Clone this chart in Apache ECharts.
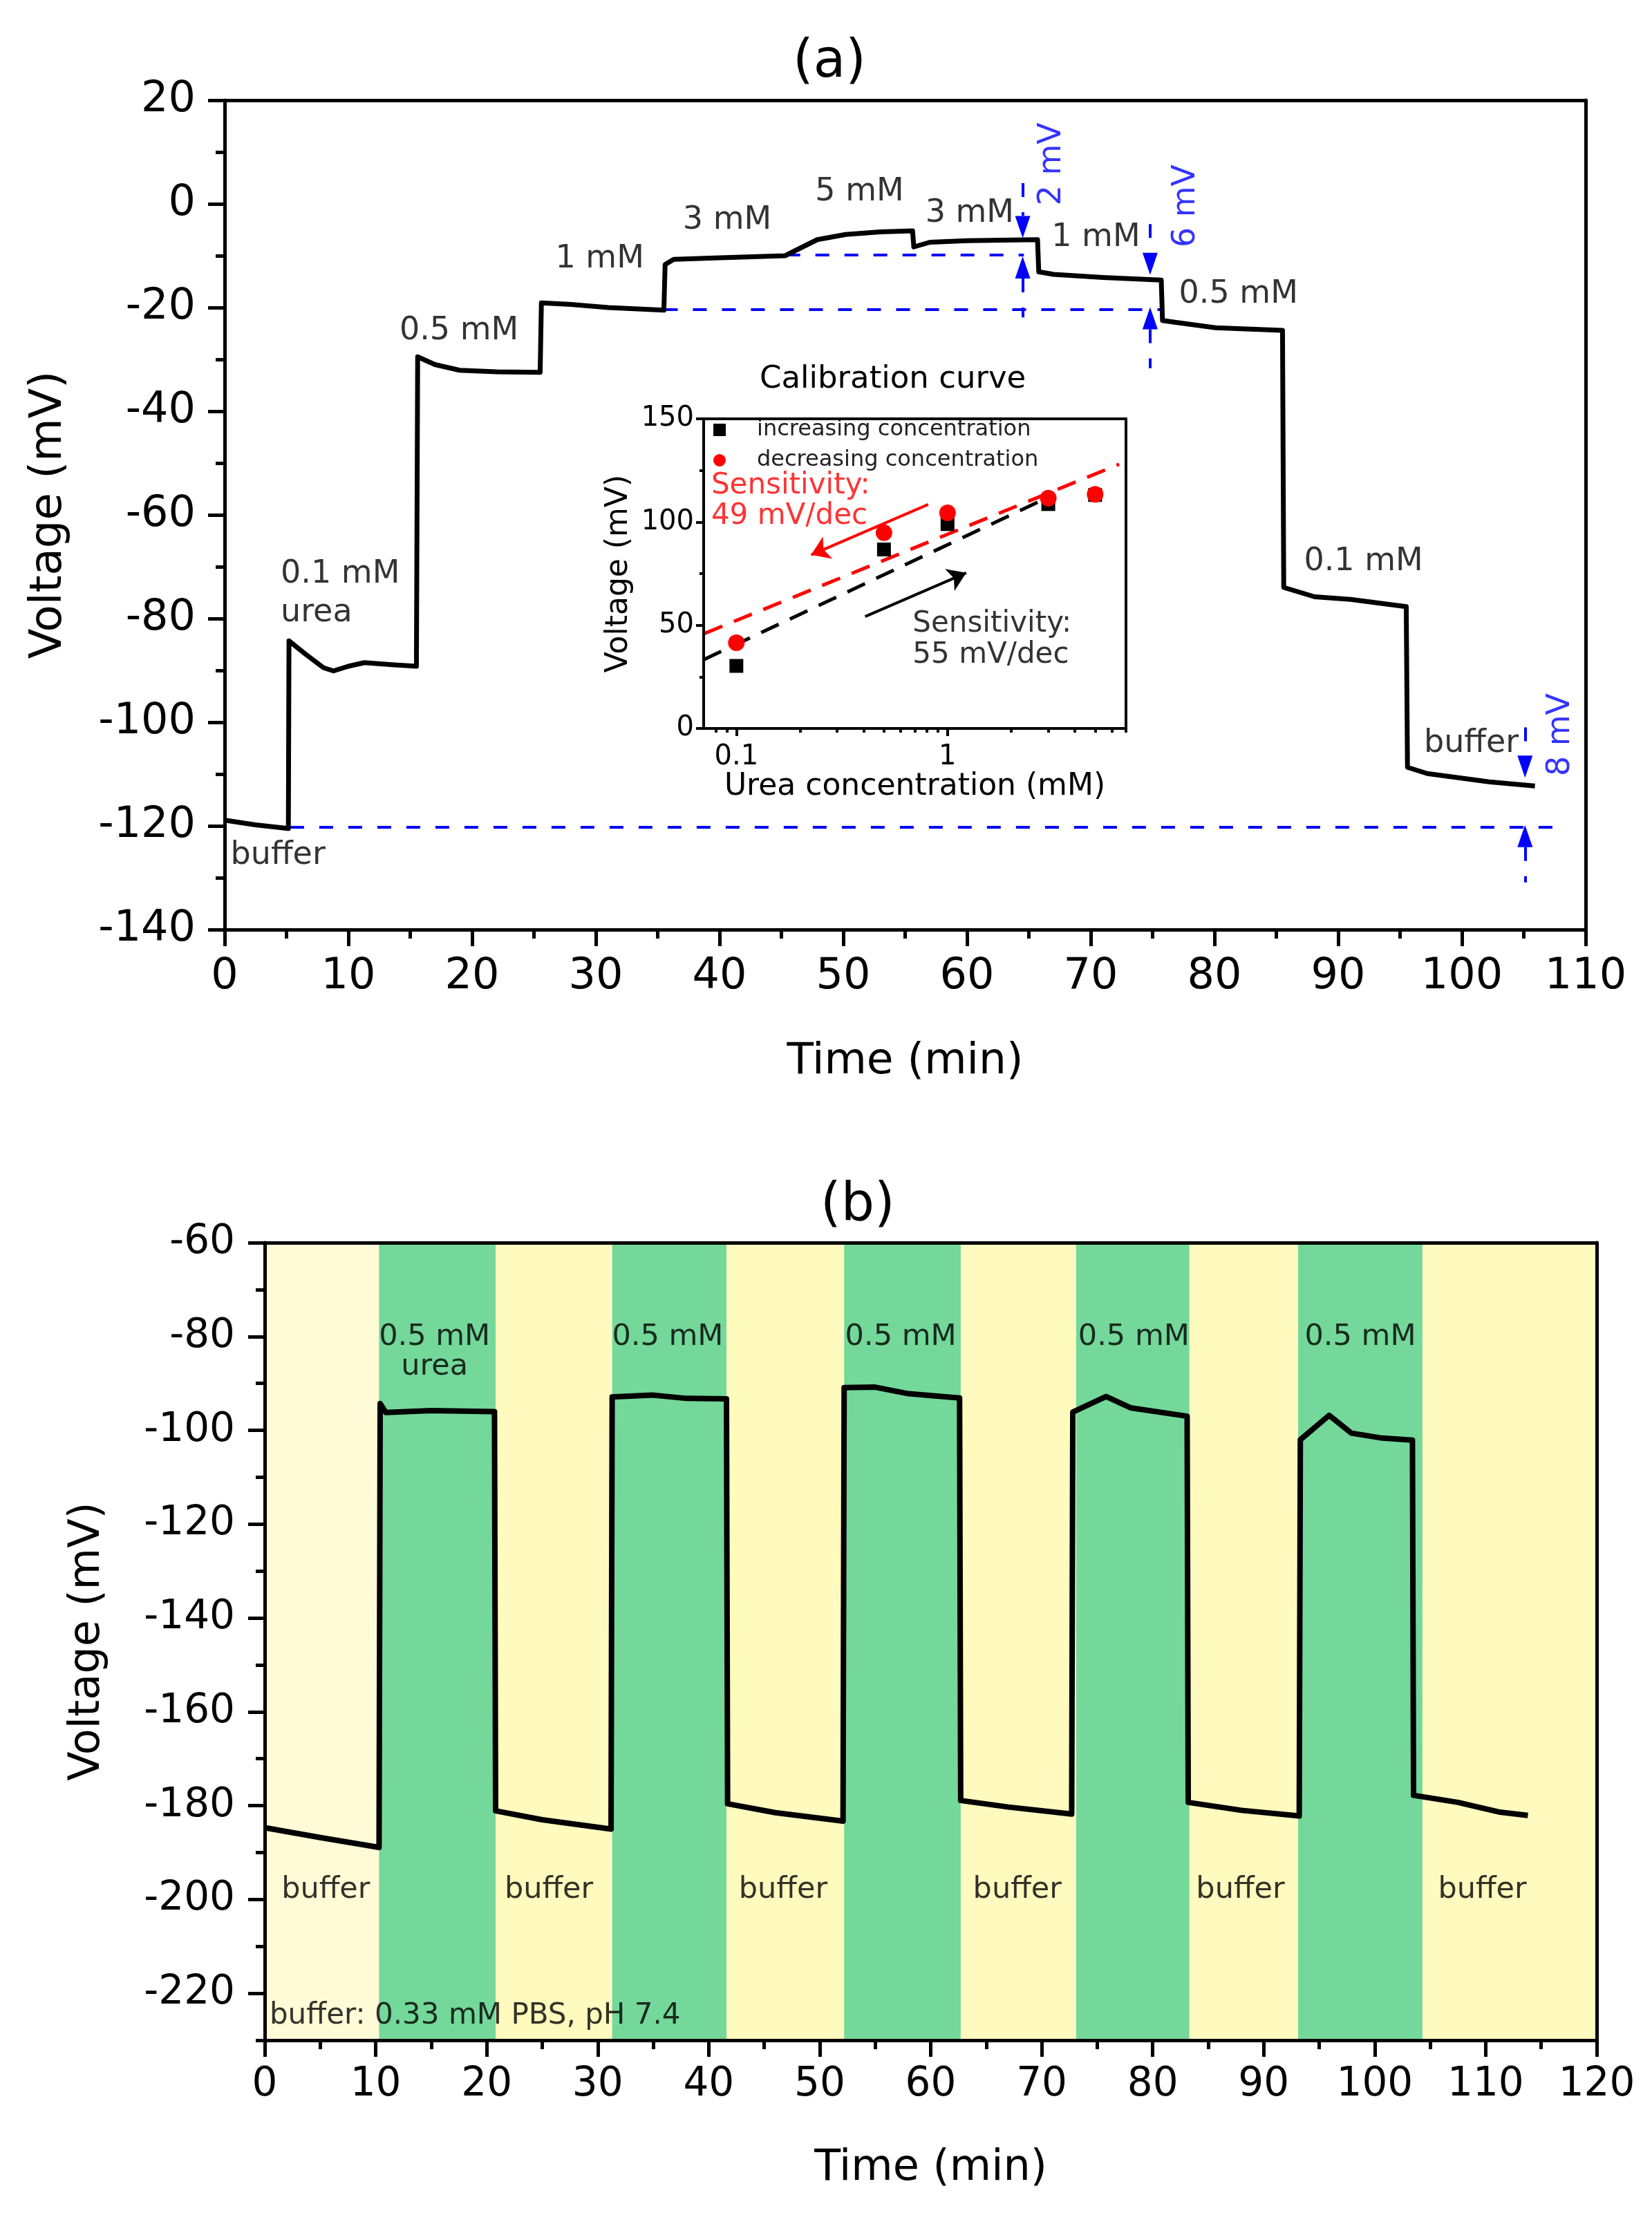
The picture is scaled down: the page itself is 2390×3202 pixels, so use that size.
<!DOCTYPE html>
<html>
<head>
<meta charset="utf-8">
<title>Urea sensor response</title>
<script src="https://cdn.jsdelivr.net/npm/echarts@6/dist/echarts.min.js"></script>
<style>
  html, body { margin: 0; padding: 0; background: #fff; }
  #chart { width: 2390px; height: 3202px; }
</style>
</head>
<body>
<div id="chart"></div>
<script>
// ---- (a) step calibration, [time (min), voltage (mV)]
var traceA = [
  [0, -118.9], [2.5, -119.8], [5.15, -120.5],
  [5.2, -84.3], [6.5, -86.8], [8.0, -89.5], [8.8, -90.1], [10.0, -89.2], [11.3, -88.5], [13.5, -88.9], [15.5, -89.2],
  [15.6, -29.5], [17.0, -31.0], [19.0, -32.1], [22.0, -32.4], [25.5, -32.5],
  [25.6, -19.1], [28.0, -19.4], [31.0, -20.0], [35.5, -20.5],
  [35.6, -11.7], [36.3, -10.7], [40.0, -10.4], [45.3, -10.0],
  [46.3, -8.8], [47.9, -6.9], [50.2, -5.9], [53.0, -5.4], [55.6, -5.2],
  [55.7, -8.3], [57.0, -7.4], [60.0, -7.1], [65.7, -6.9],
  [65.8, -13.1], [67.0, -13.6], [71.0, -14.2], [75.7, -14.7],
  [75.8, -22.5], [77.0, -22.9], [80.1, -23.9], [85.5, -24.4],
  [85.6, -74.0], [88.1, -75.8], [91.0, -76.3], [95.5, -77.7],
  [95.6, -108.7], [97.2, -109.9], [102.2, -111.5], [105.9, -112.3]
];
// blue dashed reference levels in (a)
var refLevelsA = [
  [[5.3, -120.2], [108.3, -120.2]],
  [[35.5, -20.4], [75.7, -20.4]],
  [[45.4, -9.8], [64.6, -9.8]]
];
// dashed arrow tails [time, from, to] and arrow heads [time, centre]
var arrowTails = [
  [64.5, 4.0, -2.3], [64.5, -14.4, -21.9],
  [74.8, -3.9, -9.4], [74.8, -24.2, -31.7],
  [105.1, -101.0, -106.4], [105.1, -124.1, -130.9]
];
var headsDown = [[64.5, -4.45], [74.8, -11.55], [105.1, -108.55]];
var headsUp = [[64.5, -12.25], [74.8, -22.05], [105.1, -121.95]];
var driftLabels = [['2 mV', 66.9, 7.7], ['6 mV', 77.7, -0.4], ['8 mV', 108.0, -102.4]];
var stepLabels = [
  ['buffer', 0.45, -125.8], ['0.1 mM', 4.5, -71.5], ['urea', 4.5, -78.9],
  ['0.5 mM', 14.1, -24.5], ['1 mM', 26.7, -10.7], ['3 mM', 37.0, -3.2],
  ['5 mM', 47.7, 2.3], ['3 mM', 56.6, -1.9], ['1 mM', 66.8, -6.5],
  ['0.5 mM', 77.1, -17.5], ['0.1 mM', 87.2, -69.1], ['buffer', 96.9, -104.1]
];

// ---- inset: calibration curve
var concentrations = [0.1, 0.5, 1, 3, 5];
var vIncreasing = [30.3, 86.7, 99.0, 108.7, 113.1];
var vDecreasing = [41.5, 94.8, 104.5, 111.6, 113.4];
var fitIncreasing = [[0.07, 33.3], [3.0, 112]];
var fitDecreasing = [[0.0706, 46], [6.5, 128]];
var arrowDecreasing = [[0.81, 108.5], [0.226, 84.1]];
var arrowIncreasing = [[0.407, 54.2], [1.226, 75.4]];
var insetRedText = [['Sensitivity:', 0.0757, 117.6], ['49 mV/dec', 0.0757, 102.7]];
var insetBlackText = [['Sensitivity:', 0.681, 50.5], ['55 mV/dec', 0.681, 35.6]];
var insetMajorX = [0.1, 1];
var insetMinorX = [0.08, 0.09, 0.2, 0.3, 0.4, 0.5, 0.6, 0.7, 0.8, 0.9, 2, 3, 4, 5, 6, 7];

// ---- (b) repeated 0.5 mM pulses
var traceB = [
  [0, -184.7], [5, -186.8], [10.3, -188.9],
  [10.4, -94.3], [10.9, -96.2], [15, -95.8], [20.7, -96.0],
  [20.8, -181.1], [25, -183.0], [31.2, -185.0],
  [31.3, -92.9], [35, -92.5], [38, -93.2], [41.6, -93.3],
  [41.7, -179.6], [46, -181.5], [52.1, -183.3],
  [52.2, -90.9], [55, -90.8], [58, -92.2], [62.6, -93.1],
  [62.7, -178.9], [67, -180.3], [72.7, -181.8],
  [72.8, -96.1], [75.8, -92.8], [78, -95.2], [83.1, -97.0],
  [83.2, -179.3], [88, -181.0], [93.2, -182.2],
  [93.3, -102.0], [95.9, -96.8], [97.9, -100.6], [100.5, -101.6], [103.4, -102.1],
  [103.5, -177.8], [107.5, -179.3], [111.3, -181.4], [113.8, -182.1]
];
var ureaBands = [[10.3, 20.8], [31.3, 41.6], [52.2, 62.7], [73.1, 83.3], [93.1, 104.3]];
var bufferBands = [[20.8, 31.3], [41.6, 52.2], [62.7, 73.1], [83.3, 93.1], [104.3, 120]];
var firstBufferBand = [[0, 10.3]];
var pulseLabels = [
  ['0.5 mM', 15.3, -80.2], ['urea', 15.3, -86.5], ['0.5 mM', 36.3, -80.2],
  ['0.5 mM', 57.3, -80.2], ['0.5 mM', 78.3, -80.2], ['0.5 mM', 98.7, -80.2],
  ['buffer', 5.5, -198], ['buffer', 25.6, -198], ['buffer', 46.7, -198],
  ['buffer', 67.8, -198], ['buffer', 87.9, -198], ['buffer', 109.7, -198]
];
var noteB = [['buffer: 0.33 mM PBS, pH 7.4', 0.4, -224.8]];
var yTicksB = [-220, -200, -180, -160, -140, -120, -100, -80, -60];
var yMinorB = [-230, -210, -190, -170, -150, -130, -110, -90, -70];

var FONT = 'DejaVu Sans';
var BLUE = '#0000ff';

function frameAxis(grid, pos) {
  return {
    gridIndex: grid, position: pos, type: 'value', min: 0, max: 1, z: 10,
    axisLine: { show: true, onZero: false, lineStyle: { color: '#000', width: 5 } },
    axisTick: { show: false }, axisLabel: { show: false }, splitLine: { show: false }
  };
}

function mainAxis(o) {
  var ax = {
    type: 'value', z: 10,
    axisLine: { show: true, onZero: false, lineStyle: { color: '#000', width: o.lw || 5 } },
    axisTick: { show: true, inside: false, length: o.tick || 24, lineStyle: { color: '#000', width: o.lw || 5 } },
    minorTick: { show: !!o.minor, splitNumber: o.minor || 2, length: o.minorLen || 13, lineStyle: { color: '#000', width: o.lw || 5 } },
    axisLabel: { fontSize: o.font, margin: o.margin, color: '#000', fontFamily: FONT },
    splitLine: { show: false }, minorSplitLine: { show: false },
    nameLocation: 'middle', nameGap: o.nameGap,
    nameTextStyle: { fontSize: o.nameFont, color: '#000', fontFamily: FONT }
  };
  for (var k in o.extra) ax[k] = o.extra[k];
  return ax;
}

function textSeries(xi, yi, items, pos, style) {
  return {
    type: 'scatter', xAxisIndex: xi, yAxisIndex: yi, silent: true, z: 6,
    symbolSize: 1, itemStyle: { color: 'rgba(0,0,0,0)' },
    data: items.map(function (d) { return { name: d[0], value: [d[1], d[2]] }; }),
    label: Object.assign({
      show: true, position: pos, distance: 0, formatter: '{b}',
      fontFamily: FONT, color: '#000'
    }, style)
  };
}

function bandSeries(bands, color) {
  return {
    type: 'line', xAxisIndex: 5, yAxisIndex: 4, data: [], silent: true, z: 1,
    markArea: {
      silent: true, itemStyle: { color: color },
      data: bands.map(function (b) { return [{ xAxis: b[0] }, { xAxis: b[1] }]; })
    }
  };
}

var chart = echarts.init(document.getElementById('chart'), null, { renderer: 'canvas' });

var option = {
  animation: false,
  backgroundColor: '#fff',
  title: [
    { text: '(a)', left: 1142, top: 48, textStyle: { fontSize: 76, fontWeight: 'normal', fontFamily: FONT, color: '#000' } },
    { text: 'Calibration curve', left: 1094, top: 522, textStyle: { fontSize: 45, fontWeight: 'normal', fontFamily: FONT, color: '#000' } },
    { text: '(b)', left: 1182, top: 1702, textStyle: { fontSize: 76, fontWeight: 'normal', fontFamily: FONT, color: '#000' } }
  ],
  legend: {
    data: ['increasing concentration', 'decreasing concentration'],
    orient: 'vertical', left: 1027, top: 601, itemWidth: 18, itemHeight: 18, itemGap: 12,
    selectedMode: false,
    textStyle: { fontSize: 32, fontFamily: FONT, color: '#222', padding: [0, 0, 0, 40] }
  },
  grid: [
    { left: 325, top: 145, width: 1969, height: 1200, outerBoundsMode: 'none' },
    { left: 1018, top: 606, width: 611, height: 448, outerBoundsMode: 'none' },
    { left: 383, top: 1798, width: 1927, height: 1154, outerBoundsMode: 'none' }
  ],
  xAxis: [
    mainAxis({ font: 62, margin: 38, nameGap: 160, nameFont: 63, minor: 2,
      extra: { gridIndex: 0, position: 'bottom', min: 0, max: 110, interval: 10, name: 'Time (min)' } }),
    frameAxis(0, 'top'),
    mainAxis({ font: 40, margin: 22, nameGap: 62, nameFont: 44, tick: 11, lw: 4,
      extra: { gridIndex: 1, position: 'bottom', type: 'log', logBase: 10, min: 0.07, max: 7,
        name: 'Urea concentration (mM)' } }),
    { gridIndex: 1, position: 'bottom', type: 'log', logBase: 10, min: 0.07, max: 7, z: 10,
      axisLine: { show: false, onZero: false },
      axisTick: { show: true, length: 6, customValues: insetMinorX, lineStyle: { color: '#000', width: 4 } },
      axisLabel: { show: false }, splitLine: { show: false } },
    Object.assign(frameAxis(1, 'top'), { axisLine: { show: true, onZero: false, lineStyle: { color: '#000', width: 4 } } }),
    mainAxis({ font: 58, margin: 36, nameGap: 155, nameFont: 62, minor: 2,
      extra: { gridIndex: 2, position: 'bottom', min: 0, max: 120, interval: 10, name: 'Time (min)' } }),
    frameAxis(2, 'top')
  ],
  yAxis: [
    mainAxis({ font: 62, margin: 42, nameGap: 222, nameFont: 64, minor: 2,
      extra: { gridIndex: 0, position: 'left', min: -140, max: 20, interval: 20, name: 'Voltage (mV)' } }),
    frameAxis(0, 'right'),
    mainAxis({ font: 40, margin: 14, nameGap: 100, nameFont: 44, tick: 11, lw: 4, minor: 2, minorLen: 6,
      extra: { gridIndex: 1, position: 'left', min: 0, max: 150, interval: 50, name: 'Voltage (mV)' } }),
    Object.assign(frameAxis(1, 'right'), { axisLine: { show: true, onZero: false, lineStyle: { color: '#000', width: 4 } } }),
    mainAxis({ font: 58, margin: 43, nameGap: 225, nameFont: 62,
      extra: { gridIndex: 2, position: 'left', min: -230, max: -60, name: 'Voltage (mV)' } }),
    { gridIndex: 2, position: 'left', type: 'value', min: -230, max: -60, z: 10,
      axisLine: { show: false, onZero: false },
      axisTick: { show: true, length: 13, customValues: yMinorB, lineStyle: { color: '#000', width: 5 } },
      axisLabel: { show: false }, splitLine: { show: false } },
    frameAxis(2, 'right')
  ],
  series: [
    // (a)
    { type: 'line', xAxisIndex: 0, yAxisIndex: 0, data: traceA, showSymbol: false, symbol: 'none', z: 4,
      lineStyle: { color: '#000', width: 7, join: 'round' } },
    { type: 'lines', coordinateSystem: 'cartesian2d', xAxisIndex: 0, yAxisIndex: 0, silent: true, z: 3,
      lineStyle: { color: BLUE, width: 4, type: [20, 22], opacity: 1 },
      data: refLevelsA.map(function (c) { return { coords: c }; })
        .concat(arrowTails.map(function (a) { return { coords: [[a[0], a[1]], [a[0], a[2]]] }; })) },
    { type: 'scatter', xAxisIndex: 0, yAxisIndex: 0, silent: true, z: 5, data: headsDown,
      symbol: 'triangle', symbolSize: [22, 32], symbolRotate: 180, itemStyle: { color: BLUE, opacity: 1 } },
    { type: 'scatter', xAxisIndex: 0, yAxisIndex: 0, silent: true, z: 5, data: headsUp,
      symbol: 'triangle', symbolSize: [22, 32], itemStyle: { color: BLUE, opacity: 1 } },
    textSeries(0, 0, stepLabels, 'right', { fontSize: 46 }),
    textSeries(0, 0, driftLabels, 'inside', { fontSize: 46, color: BLUE, rotate: 90 }),
    // inset
    { type: 'lines', coordinateSystem: 'cartesian2d', xAxisIndex: 2, yAxisIndex: 2, silent: true, z: 3,
      lineStyle: { color: '#000', width: 5, type: [28, 18], opacity: 1 }, data: [{ coords: fitIncreasing }] },
    { type: 'lines', coordinateSystem: 'cartesian2d', xAxisIndex: 2, yAxisIndex: 2, silent: true, z: 3,
      lineStyle: { color: '#ff0000', width: 5, type: [28, 18], opacity: 1 }, data: [{ coords: fitDecreasing }] },
    { name: 'increasing concentration', type: 'scatter', xAxisIndex: 2, yAxisIndex: 2, z: 4,
      symbol: 'rect', symbolSize: 20, itemStyle: { color: '#000', opacity: 1 },
      data: concentrations.map(function (c, i) { return [c, vIncreasing[i]]; }) },
    { name: 'decreasing concentration', type: 'scatter', xAxisIndex: 2, yAxisIndex: 2, z: 5,
      symbol: 'circle', symbolSize: 24, itemStyle: { color: '#ff0000', opacity: 1 },
      data: concentrations.map(function (c, i) { return [c, vDecreasing[i]]; }) },
    { type: 'lines', coordinateSystem: 'cartesian2d', xAxisIndex: 2, yAxisIndex: 2, silent: true, z: 5,
      symbol: ['none', 'arrow'], symbolSize: 26,
      lineStyle: { color: '#ff0000', width: 4, opacity: 1 }, data: [{ coords: arrowDecreasing }] },
    { type: 'lines', coordinateSystem: 'cartesian2d', xAxisIndex: 2, yAxisIndex: 2, silent: true, z: 5,
      symbol: ['none', 'arrow'], symbolSize: 26,
      lineStyle: { color: '#000', width: 4, opacity: 1 }, data: [{ coords: arrowIncreasing }] },
    textSeries(2, 2, insetRedText, 'right', { fontSize: 42, color: '#ff0000' }),
    textSeries(2, 2, insetBlackText, 'right', { fontSize: 42 }),
    // (b)
    bandSeries(firstBufferBand, '#fffbd6'),
    bandSeries(bufferBands, '#fffabe'),
    bandSeries(ureaBands, '#74d89a'),
    { type: 'line', xAxisIndex: 5, yAxisIndex: 4, data: traceB, showSymbol: false, symbol: 'none', z: 4,
      lineStyle: { color: '#000', width: 8, join: 'round' } },
    textSeries(5, 4, pulseLabels, 'inside', { fontSize: 43 }),
    textSeries(5, 4, noteB, 'right', { fontSize: 42 })
  ]
};

// (b) y axis: labelled ticks at the multiples of 20 only
option.yAxis[4].axisLabel.customValues = yTicksB;
option.yAxis[4].axisTick.customValues = yTicksB;
option.xAxis[2].axisLabel.customValues = insetMajorX;
option.xAxis[2].axisTick.customValues = insetMajorX;

chart.setOption(option);
</script>
</body>
</html>
